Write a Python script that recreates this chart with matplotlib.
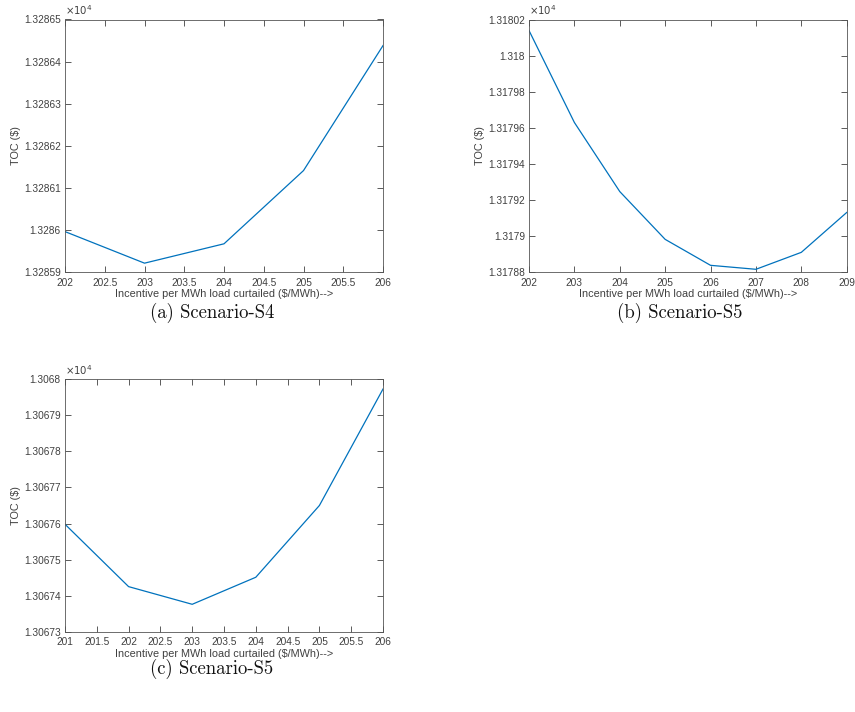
import matplotlib
matplotlib.use("Agg")
import matplotlib.pyplot as plt
from matplotlib.ticker import FuncFormatter, MultipleLocator

# ---- data (TOC in $) ----
x_a = [202, 203, 204, 205, 206]
y_a = [13285.996, 13285.921, 13285.967, 13286.141, 13286.438]

x_b = [202, 203, 204, 205, 206, 207, 208, 209]
y_b = [13180.139, 13179.629, 13179.246, 13178.981, 13178.837, 13178.815, 13178.909, 13179.130]

x_c = [201, 202, 203, 204, 205, 206]
y_c = [13067.598, 13067.425, 13067.376, 13067.451, 13067.650, 13067.973]

captions = ["(a) Scenario-S4", "(b) Scenario-S5", "(c) Scenario-S5"]
xlabel = "Incentive per MWh load curtailed (\\$/MWh)-->"
ylabel = "TOC (\\$)"

W, H = 855, 712
fig = plt.figure(figsize=(W / 100, H / 100), dpi=100)

LINE = "#0072BD"
TICKC = "#404040"
FONT = "Liberation Sans"

def box(l, t, r, b):
    return [l / W, 1 - b / H, (r - l) / W, (b - t) / H]

specs = [
    (x_a, y_a, box(65, 19.5, 383, 272), (202, 206), (13285.9, 13286.5), 0.5, 0.1, captions[0], (212, 313)),
    (x_b, y_b, box(529, 19.5, 846.7, 272), (202, 209), (13178.8, 13180.2), 1.0, 0.2, captions[1], (680, 313)),
    (x_c, y_c, box(65, 379.3, 383, 631.7), (201, 206), (13067.3, 13068.0), 0.5, 0.1, captions[2], (212, 669)),
]

fmt = FuncFormatter(lambda v, p: "%g" % round(v / 1e4, 6))

for xs, ys, pos, xl, yl, xstep, ystep, cap, cpos in specs:
    ax = fig.add_axes(pos)
    ax.plot(xs, ys, color=LINE, lw=0.9)
    ax.set_xlim(*xl)
    ax.set_ylim(*yl)
    ax.xaxis.set_major_locator(MultipleLocator(xstep))
    ax.yaxis.set_major_locator(MultipleLocator(ystep))
    ax.xaxis.set_major_formatter(FuncFormatter(lambda v, p: "%g" % v))
    ax.yaxis.set_major_formatter(fmt)
    ax.tick_params(direction="in", top=True, right=True, length=4, width=0.6,
                   colors=TICKC, labelsize=7.3)
    ax.tick_params(axis="x", pad=4)
    ax.tick_params(axis="y", pad=3)
    for lab in ax.get_xticklabels() + ax.get_yticklabels():
        lab.set_fontfamily(FONT)
    for s in ax.spines.values():
        s.set_color("#555555")
        s.set_linewidth(0.6)
    ax.set_xlabel(xlabel, fontsize=7.8, color=TICKC, fontfamily=FONT, labelpad=1)
    ax.set_ylabel(ylabel, fontsize=7.8, color=TICKC, fontfamily=FONT, labelpad=2)
    ax.text(0.0, 1.008, r"$\times10^{4}$", transform=ax.transAxes, fontsize=7.3,
            color=TICKC, ha="left", va="bottom")
    fig.text(cpos[0] / W, 1 - cpos[1] / H, cap, fontsize=13.5, fontfamily="cmr10",
             ha="center", va="center", color="#111111")

fig.savefig("out.png", dpi=100)
